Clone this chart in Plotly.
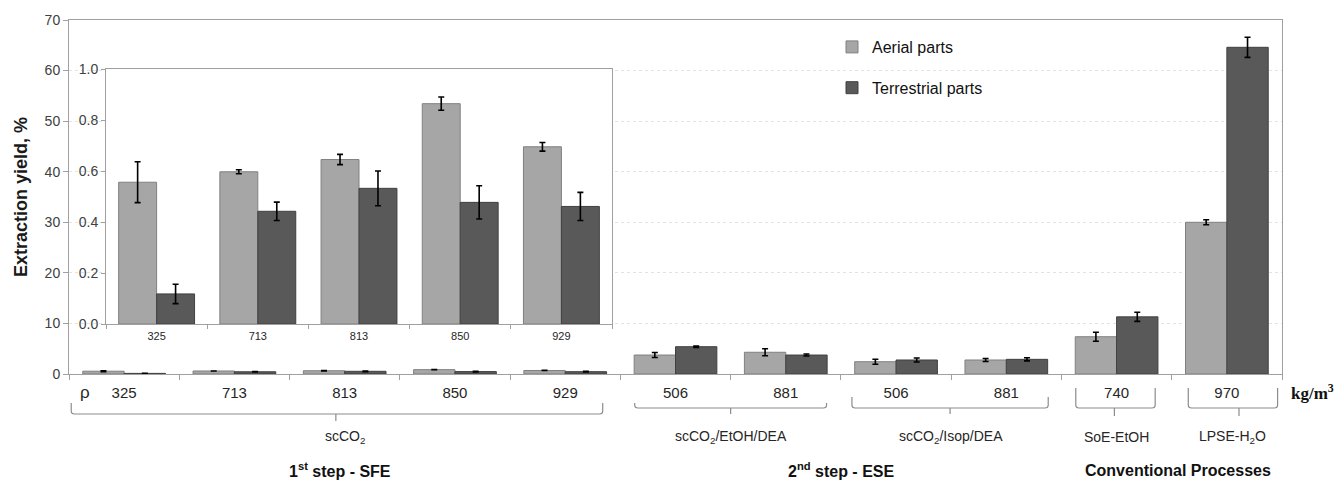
import plotly.graph_objects as go

# ---------------- data ----------------
categories = ["SFE 325", "SFE 713", "SFE 813", "SFE 850", "SFE 929",
              "EtOH 506", "EtOH 881", "Isop 506", "Isop 881", "SoE 740", "LPSE 970"]
densities = ["325", "713", "813", "850", "929", "506", "881", "506", "881", "740", "970"]

aerial = [0.556, 0.597, 0.645, 0.864, 0.695, 3.75, 4.3, 2.43, 2.77, 7.37, 30.0]
aerial_err = [0.08, 0.008, 0.02, 0.026, 0.017, 0.5, 0.7, 0.5, 0.3, 0.9, 0.5]
terrestrial = [0.118, 0.442, 0.532, 0.477, 0.461, 5.4, 3.75, 2.77, 2.9, 11.3, 64.6]
terrestrial_err = [0.038, 0.036, 0.068, 0.065, 0.055, 0.15, 0.2, 0.4, 0.3, 0.9, 2.0]

inset_categories = categories[:5]
inset_labels = densities[:5]
inset_aerial = aerial[:5]
inset_aerial_err = aerial_err[:5]
inset_terrestrial = terrestrial[:5]
inset_terrestrial_err = terrestrial_err[:5]

group_labels = ["scCO<sub>2</sub>", "scCO<sub>2</sub>/EtOH/DEA", "scCO<sub>2</sub>/Isop/DEA",
                "SoE-EtOH", "LPSE-H<sub>2</sub>O"]
step_labels = ["1<sup>st</sup> step - SFE", "2<sup>nd</sup> step - ESE", "Conventional Processes"]

# ---------------- style ----------------
C_AER = "#a6a6a6"
C_TER = "#595959"
AXC = "#a0a0a0"
FONT = "Arial, Liberation Sans, sans-serif"
TXT = "#262626"

W, H = 1340, 480
L, R, T, B = 69, 58, 20, 106
PW, PH = W - L - R, H - T - B


def px_x(p):
    return (p - L) / PW


def px_y(p):
    return (H - B - p) / PH


def err(arr):
    return dict(type="data", array=arr, color="black", thickness=1.6, width=3)


fig = go.Figure()

fig.add_trace(go.Bar(name="Aerial parts", x=categories, y=aerial, error_y=err(aerial_err),
                     marker=dict(color=C_AER, line=dict(color="#808080", width=1)),
                     legendgroup="a"))
fig.add_trace(go.Bar(name="Terrestrial parts", x=categories, y=terrestrial, error_y=err(terrestrial_err),
                     marker=dict(color=C_TER, line=dict(color="#404040", width=1)),
                     legendgroup="t"))

fig.add_trace(go.Bar(x=inset_categories, y=inset_aerial, error_y=err(inset_aerial_err),
                     marker=dict(color=C_AER, line=dict(color="#808080", width=1)),
                     xaxis="x2", yaxis="y2", showlegend=False))
fig.add_trace(go.Bar(x=inset_categories, y=inset_terrestrial, error_y=err(inset_terrestrial_err),
                     marker=dict(color=C_TER, line=dict(color="#404040", width=1)),
                     xaxis="x2", yaxis="y2", showlegend=False))

fig.update_layout(
    width=W, height=H,
    margin=dict(l=L, r=R, t=T, b=B),
    paper_bgcolor="white", plot_bgcolor="white",
    font=dict(family=FONT, color=TXT),
    barmode="group", bargap=0.25, bargroupgap=0,
    showlegend=True,
    legend=dict(x=px_x(832), y=px_y(30), xanchor="left", yanchor="top",
                font=dict(size=16, color="#111"), tracegroupgap=17,
                bgcolor="rgba(0,0,0,0)", itemwidth=30),
    xaxis=dict(type="category", categoryorder="array", categoryarray=categories,
               tickvals=categories, ticktext=densities, tickson="boundaries",
               ticks="outside", ticklen=5, tickcolor=AXC, ticklabelstandoff=5,
               showline=True, linecolor=AXC, linewidth=1, mirror=True,
               tickfont=dict(size=15, color=TXT), showgrid=False),
    yaxis=dict(range=[0, 70], dtick=10, ticks="outside", ticklen=5, tickcolor=AXC,
               showline=True, linecolor=AXC, linewidth=1, mirror=True,
               showgrid=True, gridcolor="#e3e3e3", griddash="dot", gridwidth=1,
               zeroline=False, tickfont=dict(size=14, color="#404040"),
               title=dict(text="<b>Extraction yield, %</b>", font=dict(size=18, color="#1a1a1a"),
                          standoff=12)),
    xaxis2=dict(type="category", categoryorder="array", categoryarray=inset_categories,
                tickvals=inset_categories, ticktext=inset_labels, tickson="boundaries",
                domain=[px_x(106), px_x(612)], anchor="y2",
                ticks="outside", ticklen=4, tickcolor=AXC, ticklabelstandoff=2,
                showline=True, linecolor=AXC, linewidth=1, mirror=True,
                tickfont=dict(size=11, color=TXT), showgrid=False),
    yaxis2=dict(domain=[px_y(324), px_y(69)], anchor="x2", range=[0, 1.0], dtick=0.2,
                tickformat=".1f", ticks="outside", ticklen=4, tickcolor=AXC,
                showline=True, linecolor=AXC, linewidth=1, mirror=True,
                showgrid=False, zeroline=False, tickfont=dict(size=14, color="#404040")),
)

# ---------------- brackets ----------------
brackets = [  # (left, right, tip) in category-index units, top-y, line-y, tip-y in pixels
    (-0.48, 4.34, 1.92, 403, 414, 421),
    (4.63, 6.37, 5.5, 403, 408, 414),
    (6.6, 8.38, 7.49, 397, 408, 414),
    (8.63, 9.35, 8.98, 388, 408, 416),
    (9.65, 10.46, 10.11, 388, 408, 416),
]
for l, r, tp, yt, yl, ytip in brackets:
    c = 3
    path = (f"M {l},{px_y(yt)} L {l},{px_y(yl - c)} Q {l},{px_y(yl)} {l + 0.03},{px_y(yl)} "
            f"L {r - 0.03},{px_y(yl)} Q {r},{px_y(yl)} {r},{px_y(yl - c)} L {r},{px_y(yt)} "
            f"M {tp},{px_y(yl)} L {tp},{px_y(ytip)}")
    fig.add_shape(type="path", path=path, xref="x", yref="paper",
                  line=dict(color="#8c8c8c", width=1.2))

# ---------------- annotations ----------------
group_x = [2.0, 5.5, 7.5, 9.0, 10.05]
for gx, txt in zip(group_x, group_labels):
    fig.add_annotation(x=gx, y=px_y(437), xref="x", yref="paper", text=txt, showarrow=False,
                       font=dict(size=14, color=TXT), xanchor="center", yanchor="middle")

step_x = [1.96, 6.5, 9.56]
for sx, txt in zip(step_x, step_labels):
    fig.add_annotation(x=sx, y=px_y(470), xref="x", yref="paper", text=f"<b>{txt}</b>",
                       showarrow=False, font=dict(size=16, color="#111"),
                       xanchor="center", yanchor="middle")

fig.add_annotation(x=px_x(85), y=px_y(392), xref="paper", yref="paper", text="ρ",
                   showarrow=False, font=dict(size=17, color=TXT), xanchor="center", yanchor="middle")
fig.add_annotation(x=px_x(1289), y=px_y(392), xref="paper", yref="paper",
                   text="<b>kg/m<sup>3</sup></b>", showarrow=False,
                   font=dict(size=17, color="#111", family="Liberation Serif, Times New Roman, serif"),
                   xanchor="left", yanchor="middle")

fig.write_html("out.html", config={"displayModeBar": False},
               post_script="document.body.style.margin='0';document.body.style.overflow='hidden';")
